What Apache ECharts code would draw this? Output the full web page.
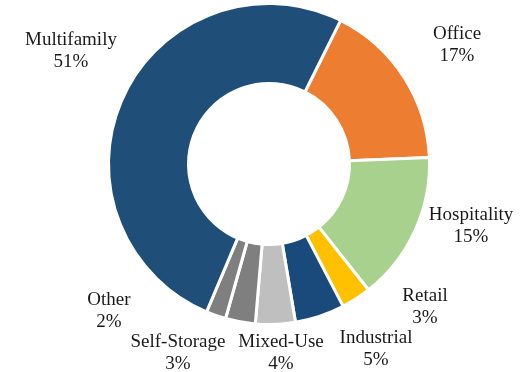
<!DOCTYPE html>
<html>
<head>
<meta charset="utf-8">
<script src="https://cdn.jsdelivr.net/npm/echarts@6/dist/echarts.min.js"></script>
<style>
  html, body { margin: 0; padding: 0; background: #ffffff; }
  #chart { width: 530px; height: 372px; }
</style>
</head>
<body>
<div id="chart"></div>
<script>
// Loan mix by property type (percent of total), clockwise from Office
const categories = ['Office', 'Hospitality', 'Retail', 'Industrial', 'Mixed-Use', 'Self-Storage', 'Other', 'Multifamily'];
const shares = [17, 15, 3, 5, 4, 3, 2, 51];

// Slice colours, same order as categories
const sliceColors = ['#ED7D31', '#A9D18E', '#FFC000', '#1A4A7C', '#BFBFBF', '#7F7F7F', '#7F7F7F', '#1F4E79'];

// Where each two-line label sits (centre of its text block, px)
const labelX = [457, 471, 425, 376, 281, 178, 109, 71];
const labelY = [45, 226, 307, 349, 353, 353, 311, 51];

const chart = echarts.init(document.getElementById('chart'), null, { renderer: 'canvas' });

chart.setOption({
  backgroundColor: '#ffffff',
  animation: false,
  series: [{
    type: 'pie',
    center: [269, 164],
    radius: [80.5, 160.5],
    startAngle: 63.5,
    clockwise: true,
    avoidLabelOverlap: false,
    itemStyle: { borderColor: '#ffffff', borderWidth: 3 },
    label: {
      show: true,
      position: 'outside',
      formatter: p => p.name + '\n' + p.value + '%',
      fontFamily: '"Liberation Serif", "Times New Roman", serif',
      fontSize: 19,
      lineHeight: 22,
      color: '#1a1a1a'
    },
    labelLine: { show: false },
    labelLayout: function (params) {
      const i = params.dataIndex;
      return { x: labelX[i], y: labelY[i], align: 'center', verticalAlign: 'middle' };
    },
    emphasis: { disabled: true },
    data: categories.map((name, i) => ({
      name: name,
      value: shares[i],
      itemStyle: { color: sliceColors[i] }
    }))
  }]
});
</script>
</body>
</html>
